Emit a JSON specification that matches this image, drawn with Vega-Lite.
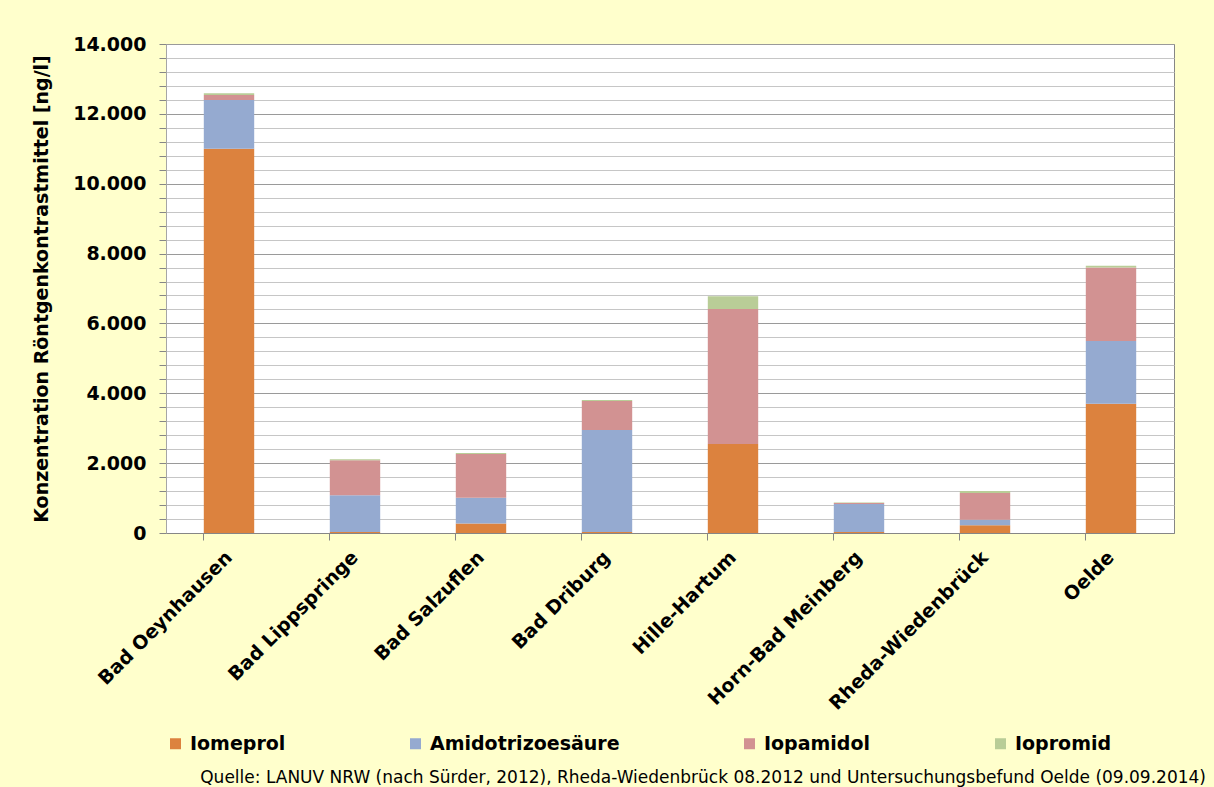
{
  "$schema": "https://vega.github.io/schema/vega-lite/v6.json",
  "width": 1008,
  "height": 489,
  "autosize": {"type": "pad"},
  "padding": {"left": 32, "top": 35, "right": 39, "bottom": 12},
  "background": "#FFFFCC",
  "config": {
    "view": {"fill": "#FFFFFF", "stroke": "#868686", "strokeWidth": 1},
    "font": "DejaVu Sans"
  },
  "data": {
    "values": [
      {"ort": "Bad Oeynhausen", "nr": 1, "mittel": "Iomeprol", "wert": 11000},
      {"ort": "Bad Oeynhausen", "nr": 2, "mittel": "Amidotrizoesäure", "wert": 1400},
      {"ort": "Bad Oeynhausen", "nr": 3, "mittel": "Iopamidol", "wert": 140},
      {"ort": "Bad Oeynhausen", "nr": 4, "mittel": "Iopromid", "wert": 50},
      {"ort": "Bad Lippspringe", "nr": 1, "mittel": "Iomeprol", "wert": 30},
      {"ort": "Bad Lippspringe", "nr": 2, "mittel": "Amidotrizoesäure", "wert": 1050},
      {"ort": "Bad Lippspringe", "nr": 3, "mittel": "Iopamidol", "wert": 1000},
      {"ort": "Bad Lippspringe", "nr": 4, "mittel": "Iopromid", "wert": 30},
      {"ort": "Bad Salzuflen", "nr": 1, "mittel": "Iomeprol", "wert": 270},
      {"ort": "Bad Salzuflen", "nr": 2, "mittel": "Amidotrizoesäure", "wert": 740},
      {"ort": "Bad Salzuflen", "nr": 3, "mittel": "Iopamidol", "wert": 1250},
      {"ort": "Bad Salzuflen", "nr": 4, "mittel": "Iopromid", "wert": 30},
      {"ort": "Bad Driburg", "nr": 1, "mittel": "Iomeprol", "wert": 30},
      {"ort": "Bad Driburg", "nr": 2, "mittel": "Amidotrizoesäure", "wert": 2920},
      {"ort": "Bad Driburg", "nr": 3, "mittel": "Iopamidol", "wert": 830},
      {"ort": "Bad Driburg", "nr": 4, "mittel": "Iopromid", "wert": 30},
      {"ort": "Hille-Hartum", "nr": 1, "mittel": "Iomeprol", "wert": 2550},
      {"ort": "Hille-Hartum", "nr": 2, "mittel": "Amidotrizoesäure", "wert": 0},
      {"ort": "Hille-Hartum", "nr": 3, "mittel": "Iopamidol", "wert": 3860},
      {"ort": "Hille-Hartum", "nr": 4, "mittel": "Iopromid", "wert": 370},
      {"ort": "Horn-Bad Meinberg", "nr": 1, "mittel": "Iomeprol", "wert": 30},
      {"ort": "Horn-Bad Meinberg", "nr": 2, "mittel": "Amidotrizoesäure", "wert": 800},
      {"ort": "Horn-Bad Meinberg", "nr": 3, "mittel": "Iopamidol", "wert": 30},
      {"ort": "Horn-Bad Meinberg", "nr": 4, "mittel": "Iopromid", "wert": 10},
      {"ort": "Rheda-Wiedenbrück", "nr": 1, "mittel": "Iomeprol", "wert": 220},
      {"ort": "Rheda-Wiedenbrück", "nr": 2, "mittel": "Amidotrizoesäure", "wert": 160},
      {"ort": "Rheda-Wiedenbrück", "nr": 3, "mittel": "Iopamidol", "wert": 765},
      {"ort": "Rheda-Wiedenbrück", "nr": 4, "mittel": "Iopromid", "wert": 60},
      {"ort": "Oelde", "nr": 1, "mittel": "Iomeprol", "wert": 3700},
      {"ort": "Oelde", "nr": 2, "mittel": "Amidotrizoesäure", "wert": 1800},
      {"ort": "Oelde", "nr": 3, "mittel": "Iopamidol", "wert": 2100},
      {"ort": "Oelde", "nr": 4, "mittel": "Iopromid", "wert": 50}
    ]
  },
  "mark": {"type": "bar"},
  "encoding": {
    "x": {
      "field": "ort",
      "type": "nominal",
      "sort": null,
      "scale": {"paddingInner": 0.6, "paddingOuter": 0.3},
      "axis": {
        "title": null,
        "bandPosition": 0,
        "labelAngle": -45,
        "labelAlign": "right",
        "labelBaseline": "middle",
        "labelPadding": 14,
        "labelLimit": 0,
        "labelFont": "DejaVu Sans",
        "labelFontWeight": "bold",
        "labelFontSize": 19,
        "labelColor": "#000000",
        "tickSize": 7,
        "tickColor": "#868686",
        "domainColor": "#868686",
        "grid": false
      }
    },
    "y": {
      "field": "wert",
      "type": "quantitative",
      "stack": "zero",
      "scale": {"domain": [0, 14000], "nice": false},
      "axis": {
        "title": "Konzentration Röntgenkontrastmittel [ng/l]",
        "titleFont": "DejaVu Sans",
        "titleFontWeight": "bold",
        "titleFontSize": 19,
        "titleColor": "#000000",
        "titlePadding": 21,
        "values": [0, 400, 800, 1200, 1600, 2000, 2400, 2800, 3200, 3600, 4000, 4400, 4800, 5200, 5600, 6000, 6400, 6800, 7200, 7600, 8000, 8400, 8800, 9200, 9600, 10000, 10400, 10800, 11200, 11600, 12000, 12400, 12800, 13200, 13600, 14000],
        "labelExpr": "datum.value % 2000 === 0 ? replace(format(datum.value, ','), ',', '.') : ''",
        "labelOverlap": false,
        "labelFlush": false,
        "labelFont": "DejaVu Sans",
        "labelFontWeight": "bold",
        "labelFontSize": 19,
        "labelColor": "#000000",
        "labelPadding": 13,
        "tickSize": 7,
        "tickColor": "#868686",
        "domainColor": "#A6A6A6",
        "grid": true,
        "gridColor": {"condition": {"test": "datum.value % 2000 === 0", "value": "#9A9A9A"}, "value": "#C6C6C6"},
        "gridWidth": 1
      }
    },
    "color": {
      "field": "mittel",
      "type": "nominal",
      "sort": ["Iomeprol", "Amidotrizoesäure", "Iopamidol", "Iopromid"],
      "scale": {
        "domain": ["Iomeprol", "Amidotrizoesäure", "Iopamidol", "Iopromid"],
        "range": ["#DC823E", "#95AAD0", "#D29292", "#B9CD97"]
      },
      "legend": {
        "title": null,
        "orient": "bottom",
        "direction": "horizontal",
        "symbolType": "square",
        "symbolSize": 121,
        "symbolStrokeWidth": 0,
        "labelFont": "DejaVu Sans",
        "labelFontWeight": "bold",
        "labelFontSize": 19,
        "labelColor": "#000000",
        "labelLimit": 0,
        "labelOffset": 5,
        "columnPadding": 120,
        "offset": 20
      }
    },
    "order": {"field": "nr", "type": "quantitative", "sort": "ascending"}
  },
  "title": {
    "text": "Quelle:  LANUV NRW (nach Sürder, 2012), Rheda-Wiedenbrück 08.2012 und Untersuchungsbefund  Oelde (09.09.2014)",
    "orient": "bottom",
    "anchor": "end",
    "frame": "group",
    "font": "DejaVu Sans",
    "fontWeight": "normal",
    "fontSize": 17,
    "color": "#000000",
    "dx": 32,
    "offset": 16
  }
}
